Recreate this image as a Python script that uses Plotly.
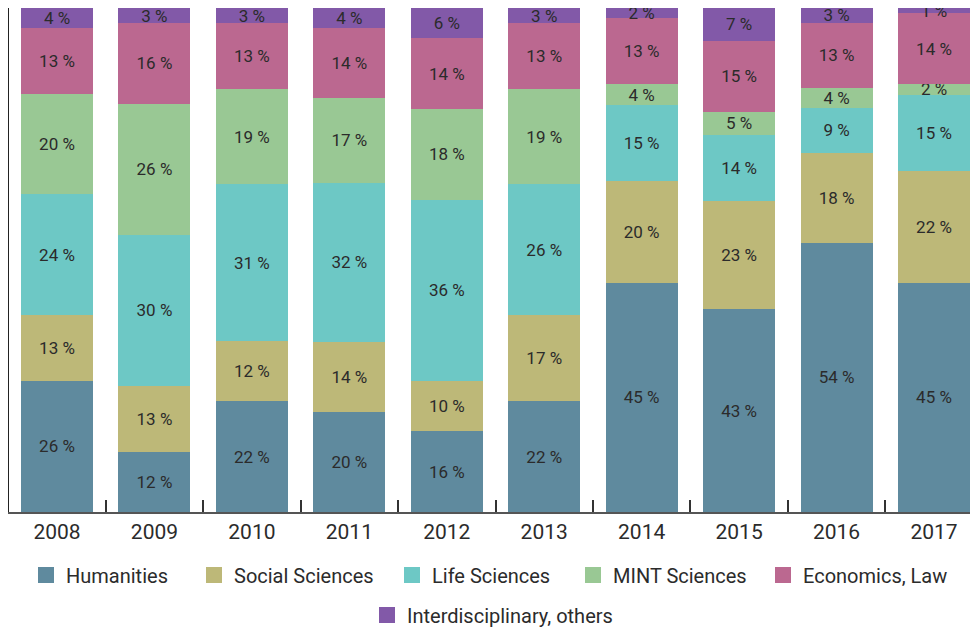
import plotly.graph_objects as go

years = ["2008", "2009", "2010", "2011", "2012", "2013", "2014", "2015", "2016", "2017"]
humanities = [26, 12, 22, 20, 16, 22, 45, 43, 54, 45]
social = [13, 13, 12, 14, 10, 17, 20, 23, 18, 22]
life = [24, 30, 31, 32, 36, 26, 15, 14, 9, 15]
mint = [20, 26, 19, 17, 18, 19, 4, 5, 4, 2]
economics = [13, 16, 13, 14, 14, 13, 13, 15, 13, 14]
interdisciplinary = [4, 3, 3, 4, 6, 3, 2, 7, 3, 1]

names = ["Humanities", "Social Sciences", "Life Sciences", "MINT Sciences",
         "Economics, Law", "Interdisciplinary, others"]
values = [humanities, social, life, mint, economics, interdisciplinary]
colors = ["#5f8a9e", "#bdb878", "#6dc8c5", "#99c894", "#bb6890", "#8259a8"]

# page has an 8px body margin, so the figure is drawn 8px smaller and offset
W, H = 970, 621

# legend placement (figure px): left x of each legend entry, row center y
legend_x = [18, 186, 384, 565, 755, 359]
legend_y = [567, 567, 567, 567, 567, 607]

FONT = "Roboto"
TXT = "#2b2b2b"

fig = go.Figure()
for name, vals, color in zip(names, values, colors):
    fig.add_trace(go.Bar(
        x=years, y=vals, name=name, marker=dict(color=color, line=dict(width=0)),
        text=[f"{v} %" for v in vals], textposition="inside", insidetextanchor="middle",
        constraintext="none", textangle=0, cliponaxis=False,
        textfont=dict(family=FONT, size=17, color=TXT),
        showlegend=False, hoverinfo="x+y+name",
    ))
for i, (name, color) in enumerate(zip(names, colors)):
    lg = "legend" if i == 0 else f"legend{i + 1}"
    fig.add_trace(go.Scatter(
        x=[None], y=[None], mode="markers", name=name,
        marker=dict(symbol="square", size=17, color=color),
        legend=lg, showlegend=True,
    ))

layout_legends = {}
for i in range(len(names)):
    key = "legend" if i == 0 else f"legend{i + 1}"
    layout_legends[key] = dict(
        orientation="h", xref="container", yref="container",
        x=legend_x[i] / W, xanchor="left",
        y=1 - legend_y[i] / H, yanchor="middle",
        font=dict(family=FONT, size=20, color=TXT),
        bgcolor="rgba(0,0,0,0)", itemsizing="trace",
    )

fig.update_layout(
    barmode="stack", barnorm="percent", bargap=0.261,
    width=W, height=H,
    margin=dict(l=1, r=0, t=0, b=117),
    paper_bgcolor="white", plot_bgcolor="white",
    font=dict(family=FONT, color=TXT),
    xaxis=dict(type="category", range=[-0.4926, 9.4516], showline=True, linecolor="#555555", linewidth=2,
               ticks="inside", tickson="boundaries", ticklen=12, tickcolor="#333333", tickwidth=2,
               tickfont=dict(family=FONT, size=21, color=TXT), showgrid=False, zeroline=False,
               automargin=False),
    yaxis=dict(range=[0, 100], showline=True, linecolor="#222222", linewidth=2, showticklabels=False,
               ticks="", showgrid=False, zeroline=False, automargin=False),
    **layout_legends,
)

fig.write_html("out.html")
